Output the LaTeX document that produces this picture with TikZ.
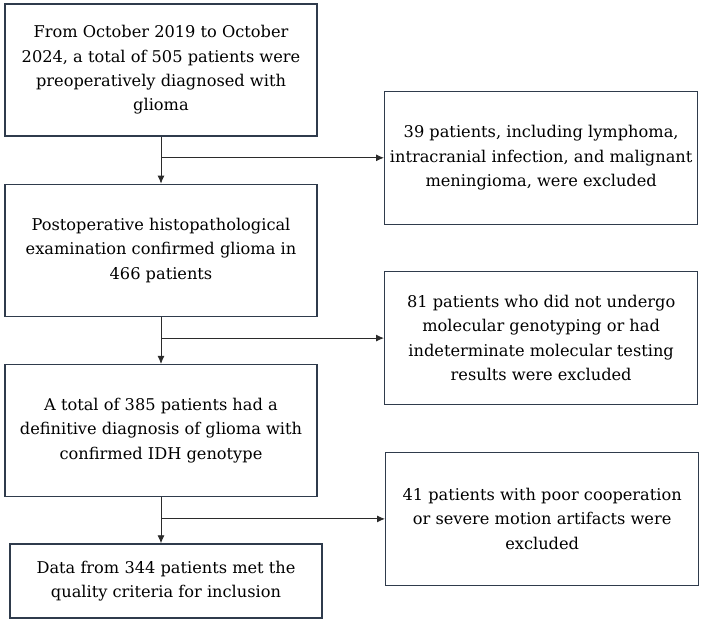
\documentclass[tikz,border=0pt]{standalone}
\usepackage{fontspec}
\setmainfont{DejaVu Serif}
\usepackage{tikz}
\usetikzlibrary{arrows.meta,positioning,calc}
\definecolor{boxline}{HTML}{2F3B4C}
\definecolor{flowline}{HTML}{2B2B2B}

\begin{document}
\begin{tikzpicture}[
    x=1pt,y=-1pt,
    >={Latex[length=8pt,width=7pt]},
    stage/.style={rectangle,draw=boxline,line width=1.3pt,minimum width=312pt,
                  minimum height=132pt,align=center,inner sep=0pt,
                  font=\fontsize{16.2}{24.3}\selectfont},
    excl/.style={stage,minimum width=313pt,minimum height=133pt},
    fl/.style={->,line width=0.9pt,flowline},
    node distance=47pt,
]
\useasboundingbox (0,0) rectangle (703,619);

\node[stage] (start) at (161,70) {From October 2019 to October\\2024, a total of 505 patients were\\preoperatively diagnosed with\\glioma};
\node[stage,below=of start] (histo) {Postoperative histopathological\\examination confirmed glioma in\\466 patients};
\node[stage,below=of histo] (idh) {A total of 385 patients had a\\definitive diagnosis of glioma with\\confirmed IDH genotype};
\node[stage,minimum height=74pt,below=46pt of idh,xshift=5pt] (final) {Data from 344 patients met the\\quality criteria for inclusion};

% branch points
\coordinate (j1) at ($(start.south)!0.45!(histo.north)$);
\coordinate (j2) at ($(histo.south)!0.45!(idh.north)$);
\coordinate (j3) at ($(idh.south)!0.47!(idh.south |- final.north)$);

\node[excl,right=223pt of j1] (ex1) {39 patients, including lymphoma,\\intracranial infection, and malignant\\meningioma, were excluded};
\node[excl,right=223pt of j2] (ex2) {81 patients who did not undergo\\molecular genotyping or had\\indeterminate molecular testing\\results were excluded};
\node[excl,right=224pt of j3] (ex3) {41 patients with poor cooperation\\or severe motion artifacts were\\excluded};

\draw[fl] (start) -- (histo);
\draw[fl] (histo) -- (idh);
\draw[fl] (idh.south) -- (idh.south |- final.north);
\draw[fl] (j1) -- (ex1);
\draw[fl] (j2) -- (ex2);
\draw[fl] (j3) -- (ex3);

\end{tikzpicture}
\end{document}
